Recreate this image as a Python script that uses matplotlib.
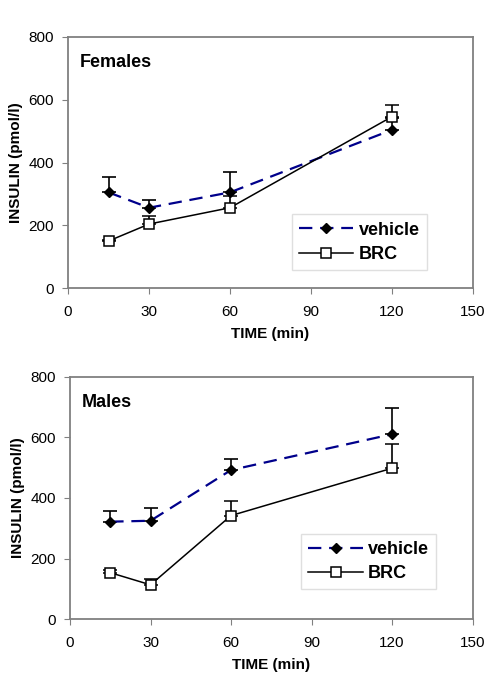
import matplotlib
matplotlib.use("Agg")
from matplotlib import pyplot as plt
from matplotlib.lines import Line2D

plt.rcParams['font.family'] = ['Liberation Sans', 'DejaVu Sans']

time_min = [15, 30, 60, 120]

# Females
fem_vehicle = [305, 256, 305, 504]
fem_vehicle_err = [49, 25, 65, 38]
fem_brc = [150, 204, 256, 546]
fem_brc_err = [4, 25, 38, 36]

# Males
male_vehicle = [322, 325, 492, 610]
male_vehicle_err = [35, 41, 35, 87]
male_brc = [154, 114, 342, 498]
male_brc_err = [8, 18, 49, 81]

x_ticks = [0, 30, 60, 90, 120, 150]
y_ticks = [0, 200, 400, 600, 800]

veh_style = dict(color='#00008B', ls=(0, (6, 3.5)), lw=1.6, marker='D', ms=5.5,
                 mfc='black', mec='black')
brc_style = dict(color='black', ls='-', lw=1.1, marker='s', ms=6.5, mfc='white',
                 mec='black', mew=1.1)


def draw_panel(ax, title, vehicle, vehicle_err, brc, brc_err, leg_anchor):
    ax.errorbar(time_min, vehicle, yerr=[[0] * 4, vehicle_err], ecolor='black',
                elinewidth=1.2, capsize=5, capthick=1.2, zorder=3, **veh_style)
    ax.errorbar(time_min, brc, yerr=[[0] * 4, brc_err], ecolor='black',
                elinewidth=1.2, capsize=5, capthick=1.2, zorder=4, **brc_style)

    ax.set_xlim(0, 150)
    ax.set_ylim(0, 800)
    ax.set_xticks(x_ticks)
    ax.set_yticks(y_ticks)
    ax.tick_params(direction='out', length=4, color='#808080', labelsize=11, pad=8)
    ax.tick_params(axis='y', pad=6)
    for s in ax.spines.values():
        s.set_color('#808080')
        s.set_linewidth(1.3)

    ax.set_xlabel('TIME (min)', fontsize=11, fontweight='bold', labelpad=6)
    ax.set_ylabel('INSULIN (pmol/l)', fontsize=11, fontweight='bold', labelpad=4)
    ax.text(0.03, 0.93, title, transform=ax.transAxes, fontsize=13, fontweight='bold',
            va='top', ha='left')

    handles = [Line2D([], [], **veh_style), Line2D([], [], **brc_style)]
    leg = ax.legend(handles, ['vehicle', 'BRC'], loc='lower right', bbox_to_anchor=leg_anchor,
                    prop={'weight': 'bold', 'size': 13}, frameon=True, borderaxespad=0,
                    fancybox=False, handlelength=3.0, borderpad=0.4, labelspacing=0.4,
                    handletextpad=0.3)
    leg.get_frame().set_edgecolor('#d8d8d8')
    leg.get_frame().set_linewidth(1.0)


fig = plt.figure(figsize=(5.0, 6.96), dpi=100)
ax1 = fig.add_axes([0.136, 0.586, 0.81, 0.361])
ax2 = fig.add_axes([0.14, 0.110, 0.805, 0.349])

draw_panel(ax1, 'Females', fem_vehicle, fem_vehicle_err, fem_brc, fem_brc_err, (0.886, 0.072))
draw_panel(ax2, 'Males', male_vehicle, male_vehicle_err, male_brc, male_brc_err, (0.91, 0.124))

fig.savefig('out.png', dpi=100)
